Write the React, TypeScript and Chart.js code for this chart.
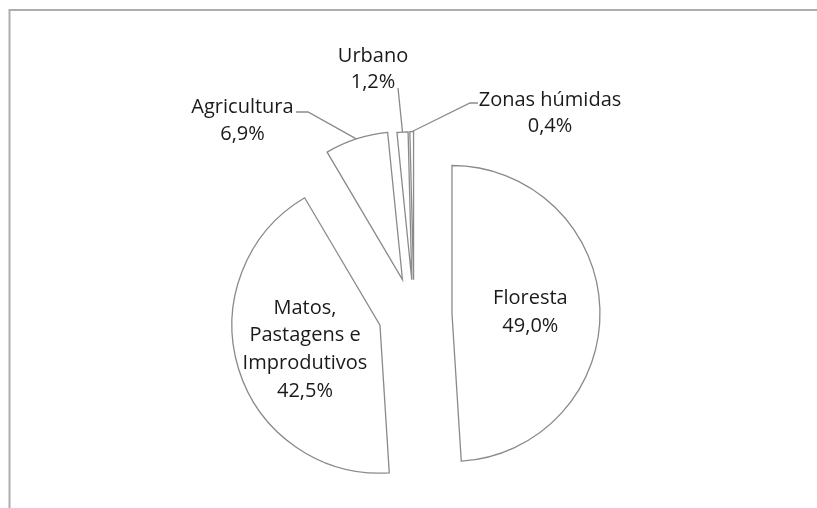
import React, { useEffect, useRef } from 'react';
import { Chart, registerables } from 'chart.js';

Chart.register(...registerables);

// ---- data ----
const CATEGORIES = ['Floresta', 'Matos, Pastagens e Improdutivos', 'Agricultura', 'Urbano', 'Zonas húmidas'];
const VALUES = [49.0, 42.5, 6.9, 1.2, 0.4];
const LABEL_LINES = [['Floresta'], ['Matos,', 'Pastagens e', 'Improdutivos'], ['Agricultura'], ['Urbano'], ['Zonas húmidas']];
// explosion distance of each slice (px)
const EXPLODE_PX = [38, 35.6, 37, 35, 35];

// ---- style / layout ----
const RADIUS = 148;
const FONT = '20px "Open Sans", Lato, sans-serif';
const TEXT_COLOR = '#1a1a1a';
const LINE_COLOR = '#8a8a8a';
const INSIDE_FRACTION = 0.53;
const INSIDE_LH = 27.6;
const OUTSIDE_LH = 26.3;
const OUTSIDE_LABELS: Record<number, { x: number; y: number; elbow?: [number, number]; end: [number, number] }> = {
  2: { x: 242.5, y: 113.3, elbow: [308, 112], end: [296, 112] },
  3: { x: 373, y: 61.7, end: [398, 88] },
  4: { x: 550, y: 106, elbow: [470, 103], end: [478, 103] },
};

const fmtPct = (v: number) => v.toFixed(1).replace('.', ',') + '%';

const framePlugin = {
  id: 'frame',
  beforeDraw(chart: any) {
    const ctx = chart.ctx;
    ctx.save();
    ctx.fillStyle = '#ffffff';
    ctx.fillRect(0, 0, chart.width, chart.height);
    ctx.strokeStyle = '#adadad';
    ctx.lineWidth = 2;
    ctx.beginPath();
    ctx.moveTo(9.5, chart.height + 2);
    ctx.lineTo(9.5, 10);
    ctx.lineTo(chart.width + 2, 10);
    ctx.stroke();
    ctx.restore();
  },
};

// explode slices: move each arc's centre outward along its mid-angle
const explodePlugin = {
  id: 'explode',
  beforeDatasetsDraw(chart: any) {
    const { left, right, top, bottom } = chart.chartArea;
    const cx = (left + right) / 2;
    const cy = (top + bottom) / 2;
    const meta = chart.getDatasetMeta(0);
    meta.data.forEach((el: any, i: number) => {
      const half = (el.startAngle + el.endAngle) / 2;
      el.x = cx + Math.cos(half) * EXPLODE_PX[i];
      el.y = cy + Math.sin(half) * EXPLODE_PX[i];
    });
  },
};

const labelPlugin = {
  id: 'sliceLabels',
  afterDatasetsDraw(chart: any) {
    const ctx = chart.ctx;
    const meta = chart.getDatasetMeta(0);
    ctx.save();
    ctx.font = FONT;
    ctx.fillStyle = TEXT_COLOR;
    ctx.textAlign = 'center';
    ctx.textBaseline = 'alphabetic';
    meta.data.forEach((el: any, i: number) => {
      const half = (el.startAngle + el.endAngle) / 2;
      const lines = [...LABEL_LINES[i], fmtPct(VALUES[i])];
      const out = OUTSIDE_LABELS[i];
      if (!out) {
        const d = RADIUS * INSIDE_FRACTION;
        const cx = el.x + Math.cos(half) * d;
        const cy = el.y + Math.sin(half) * d;
        const first = cy - ((lines.length - 1) * INSIDE_LH) / 2 + 7;
        lines.forEach((t, k) => ctx.fillText(t, cx, first + k * INSIDE_LH));
      } else {
        const sx = el.x + Math.cos(half) * RADIUS;
        const sy = el.y + Math.sin(half) * RADIUS;
        ctx.save();
        ctx.strokeStyle = LINE_COLOR;
        ctx.lineWidth = 1.3;
        ctx.beginPath();
        ctx.moveTo(sx, sy);
        if (out.elbow) ctx.lineTo(out.elbow[0], out.elbow[1]);
        ctx.lineTo(out.end[0], out.end[1]);
        ctx.stroke();
        ctx.restore();
        lines.forEach((t, k) => ctx.fillText(t, out.x, out.y + k * OUTSIDE_LH));
      }
    });
    ctx.restore();
  },
};

export default function App() {
  const ref = useRef<HTMLCanvasElement | null>(null);
  useEffect(() => {
    if (!ref.current) return;
    const chart = new Chart(ref.current, {
      type: 'pie',
      data: {
        labels: CATEGORIES,
        datasets: [
          {
            data: VALUES,
            backgroundColor: '#ffffff',
            borderColor: LINE_COLOR,
            borderWidth: 1.3,
            borderJoinStyle: 'miter',
          } as any,
        ],
      },
      options: {
        responsive: false,
        animation: false,
        devicePixelRatio: 1,
        radius: RADIUS,
        rotation: 0,
        layout: { padding: { left: 11, top: 121.4, right: 0, bottom: 0 } },
        plugins: {
          legend: { display: false },
          tooltip: { enabled: false },
        },
        events: [],
      } as any,
      plugins: [framePlugin, explodePlugin, labelPlugin],
    });
    return () => chart.destroy();
  }, []);
  return (
    <div style={{ position: 'absolute', left: 0, top: 0, width: 817, height: 508, background: '#fff' }}>
      <canvas ref={ref} width={817} height={508} style={{ display: 'block' }} />
    </div>
  );
}
